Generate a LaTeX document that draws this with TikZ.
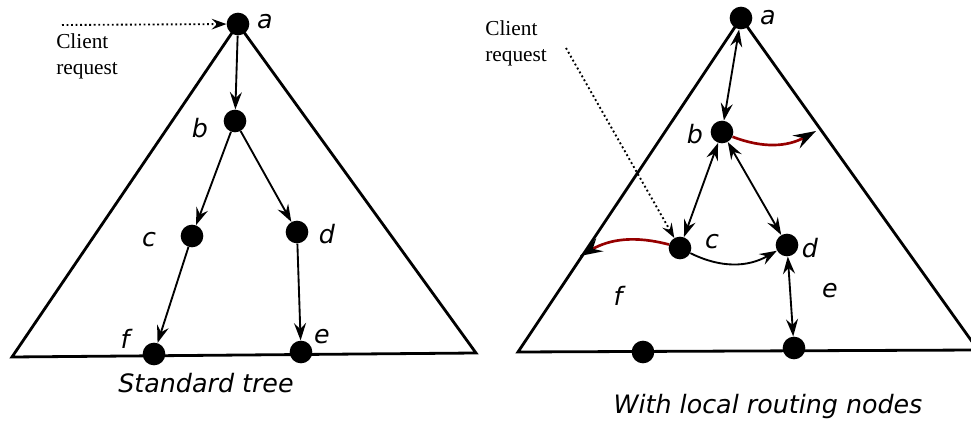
\documentclass[tikz,border=0pt]{standalone}
\usepackage{fontspec}
\newfontfamily\lblfont{DejaVu Sans}
\newfontfamily\serfont{Liberation Serif}
\usetikzlibrary{arrows.meta}
\definecolor{dred}{RGB}{150,0,0}
\tikzset{
  dotnode/.style={circle,fill=black,inner sep=0pt,minimum size=17pt},
  lbl/.style={font=\lblfont\itshape\fontsize{19}{21}\selectfont,inner sep=0pt},
  captxt/.style={font=\lblfont\itshape\fontsize{19}{22}\selectfont,inner sep=0pt},
  req/.style={font=\serfont\fontsize{16}{19.5}\selectfont,inner sep=0pt,align=left},
  trian/.style={line width=2.1pt,line join=miter},
  tipb/.tip={Stealth[length=13pt,width=9pt,inset=4.5pt]},
  oneway/.style={line width=1.4pt,-tipb},
  twoway/.style={line width=1.4pt,tipb-tipb},
  redway/.style={line width=2pt,dred,-{Stealth[length=17pt,width=11pt,inset=6pt,fill=black,color=black]}},
  dotway/.style={line width=1.4pt,dotted,-{Stealth[length=11pt,width=8pt,inset=4pt]}}
}
\begin{document}
\begin{tikzpicture}[x=0.75pt,y=-0.75pt]
\clip (0,0) rectangle (971,423);
% ---------- left tree ----------
\coordinate (L1) at (12,357);
\coordinate (L2) at (476,353);
\node[dotnode] (a) at (238,24) {};
\draw[trian] (L1) -- (a.center) -- (L2) -- cycle;
\node[dotnode] (b) at (235,121) {};
\node[dotnode] (c) at (192,236) {};
\node[dotnode] (d) at (297,232) {};
\node[dotnode] (f) at (154,354) {};
\node[dotnode] (e) at (301,352) {};
\node[lbl] at (265,22) {a};
\node[lbl] at (200,128) {b};
\node[lbl] at (149,240) {c};
\node[lbl] at (327,234) {d};
\node[lbl] at (125,339) {f};
\node[lbl] at (322,337) {e};
\draw[oneway] (a) -- (b);
\draw[oneway] (b) -- (c);
\draw[oneway] (b) -- (d);
\draw[oneway] (c) -- (f);
\draw[oneway] (d) -- (e);
\coordinate (q1) at (62,25);
\draw[dotway] (q1) -- (a);
\node[req,anchor=north west] (r1) at (56,33) {Client\\request};
\node[captxt] (t1) at (206,383) {Standard tree};
% ---------- right tree ----------
\coordinate (R1) at (518,352);
\coordinate (R2) at (978,350);
\node[dotnode] (A) at (741,18) {};
\draw[trian] (R1) -- (A.center) -- (R2) -- cycle;
\node[dotnode] (B) at (722,132) {};
\node[dotnode] (C) at (680,248) {};
\node[dotnode] (D) at (787,245) {};
\node[dotnode] (G) at (643,352) {};
\node[dotnode] (E) at (794,348) {};
\node[lbl] at (768,18) {a};
\node[lbl] at (695,134) {b};
\node[lbl] at (712,242) {c};
\node[lbl] at (810,248) {d};
\node[lbl] at (618,296) {f};
\node[lbl] at (830,291) {e};
\draw[twoway] (A) -- (B);
\draw[twoway] (B) -- (C);
\draw[twoway] (B) -- (D);
\draw[twoway] (D) -- (E);
\draw[oneway] (C) to[bend right=28] (D);
\coordinate (rb) at (816,131);
\coordinate (rc) at (580,256);
\draw[redway] (B) to[bend right=25] (rb);
\draw[redway] (C) to[bend right=22] (rc);
\coordinate (q2) at (566,48);
\draw[dotway] (q2) -- (C);
\node[req,anchor=north west] (r2) at (485,20) {Client\\request};
\node[captxt] (t2) at (768,407) {With local routing nodes};
\end{tikzpicture}
\end{document}
